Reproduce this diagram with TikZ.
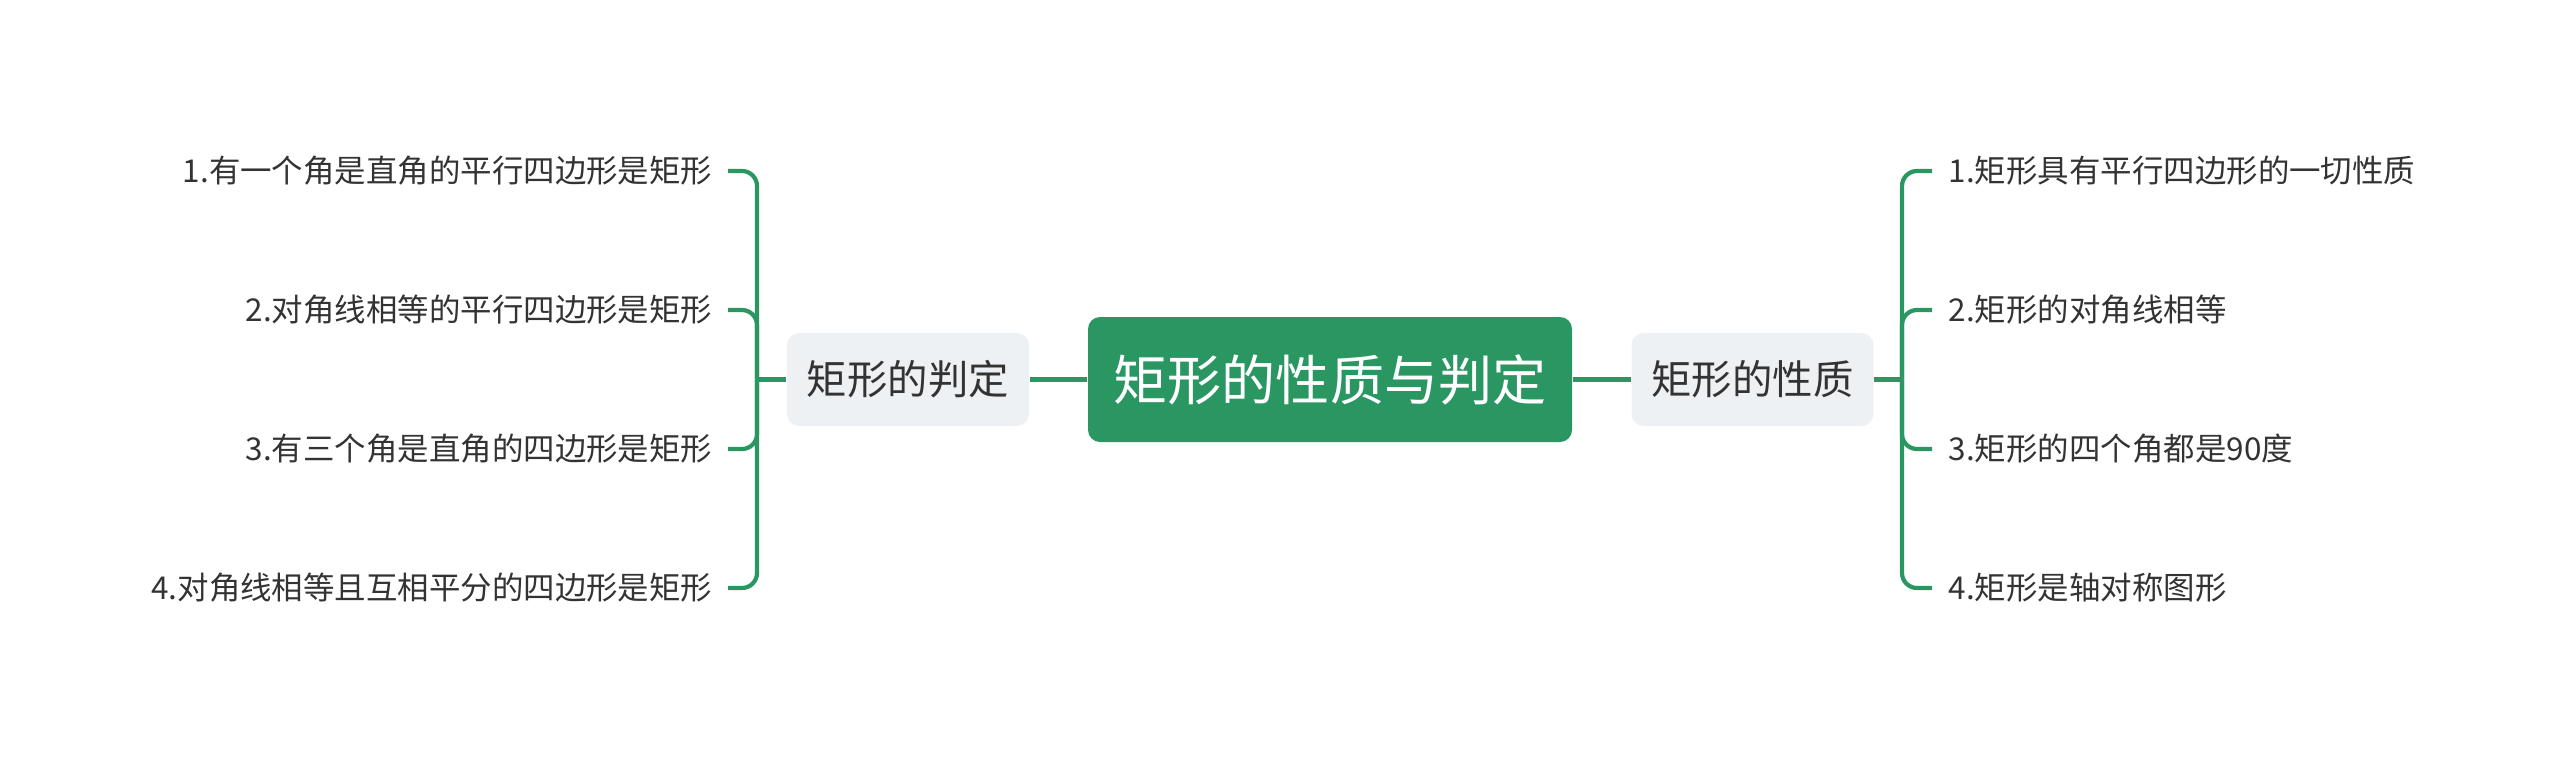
\documentclass[tikz,border=0pt]{standalone}
\usepackage{fontspec}
\setmainfont{Noto Sans CJK SC}
\usetikzlibrary{positioning}

\definecolor{mgreen}{HTML}{2A9763}
\definecolor{mgray}{HTML}{EEF1F4}
\definecolor{mtext}{HTML}{333333}

\tikzset{
  root/.style={fill=mgreen, rounded corners=0.12cm, minimum width=4.84cm,
    minimum height=1.25cm, inner sep=0pt, text=white,
    font=\fontsize{15.4}{18}\selectfont},
  topic/.style={fill=mgray, rounded corners=0.12cm, minimum width=2.42cm,
    minimum height=0.93cm, inner sep=0pt, text=mtext,
    font=\fontsize{11.5}{14}\selectfont},
  leafl/.style={anchor=east, inner xsep=0.15cm, inner ysep=0pt, text=mtext,
    font=\fontsize{8.95}{11}\selectfont},
  leafr/.style={anchor=west, inner xsep=0.16cm, inner ysep=0pt, text=mtext,
    font=\fontsize{8.95}{11}\selectfont},
  link/.style={draw=mgreen, line width=0.042cm, rounded corners=0.15cm}
}

\begin{document}
\begin{tikzpicture}
    \useasboundingbox (0,0) rectangle (25.6,-7.59);

    \node[root] (root) at (13.30,-3.795) {矩形的性质与判定};
    \node[topic] (judge) at (9.08,-3.795) {矩形的判定};
    \node[topic] (prop) at (17.525,-3.795) {矩形的性质};

    \coordinate (jhub) at (7.57,-3.795);
    \coordinate (phub) at (19.02,-3.795);

    \node[leafl] (j1) at (7.28,-1.71) {1.有一个角是直角的平行四边形是矩形};
    \node[leafl] (j2) at (7.28,-3.10) {2.对角线相等的平行四边形是矩形};
    \node[leafl] (j3) at (7.28,-4.49) {3.有三个角是直角的四边形是矩形};
    \node[leafl] (j4) at (7.28,-5.88) {4.对角线相等且互相平分的四边形是矩形};

    \node[leafr] (p1) at (19.32,-1.71) {1.矩形具有平行四边形的一切性质};
    \node[leafr] (p2) at (19.32,-3.10) {2.矩形的对角线相等};
    \node[leafr] (p3) at (19.32,-4.49) {3.矩形的四个角都是90度};
    \node[leafr] (p4) at (19.32,-5.88) {4.矩形是轴对称图形};

    \draw[link] (root) -- (judge);
    \draw[link] (root) -- (prop);
    \draw[link] (judge) -- (jhub);
    \draw[link] (prop) -- (phub);
    \foreach \n in {j1,j2,j3,j4}
        \draw[link] (jhub) |- (\n.east);
    \foreach \n in {p1,p2,p3,p4}
        \draw[link] (phub) |- (\n.west);
\end{tikzpicture}
\end{document}
